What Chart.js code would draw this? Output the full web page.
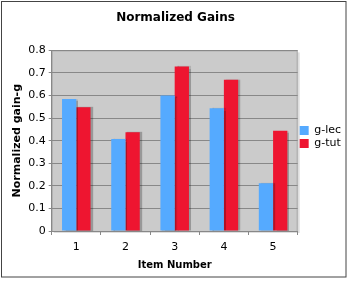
<!DOCTYPE html>
<html>
<head>
<meta charset="utf-8">
<script src="https://cdn.jsdelivr.net/npm/chart.js@4"></script>
<style>
html,body{margin:0;padding:0;background:#fff;}
#wrap{width:348px;height:283px;position:relative;}
</style>
</head>
<body>
<div id="wrap"><canvas id="c" width="348" height="283"></canvas></div>
<script>
const categories = ["1", "2", "3", "4", "5"];
const gLec = [0.585, 0.407, 0.600, 0.544, 0.212];
const gTut = [0.548, 0.437, 0.729, 0.670, 0.444];
const seriesNames = ["g-lec", "g-tut"];
const titleText = "Normalized Gains";
const xTitle = "Item Number";
const yTitle = "Normalized gain-g";

const plotBg = {
  id: 'plotBg',
  beforeDraw(chart) {
    const {ctx, chartArea: a} = chart;
    ctx.save();
    ctx.fillStyle = '#dedede';
    ctx.fillRect(a.left + 2, a.top + 2, a.right - a.left, a.bottom - a.top);
    ctx.fillStyle = '#cbcbcb';
    ctx.fillRect(a.left, a.top, a.right - a.left, a.bottom - a.top);
    ctx.strokeStyle = '#a8a8a8';
    ctx.lineWidth = 1;
    ctx.strokeRect(a.left + 0.5, a.top + 0.5, a.right - a.left - 1, a.bottom - a.top);
    ctx.restore();
  },
  beforeDatasetsDraw(chart) {
    const ctx = chart.ctx;
    ctx.save();
    ctx.shadowColor = 'rgba(0,0,0,0.25)';
    ctx.shadowOffsetX = 2;
    ctx.shadowOffsetY = 0;
    ctx.shadowBlur = 1;
  },
  afterDatasetsDraw(chart) {
    chart.ctx.restore();
  },
  afterDraw(chart) {
    const ctx = chart.ctx;
    ctx.save();
    ctx.strokeStyle = '#444';
    ctx.lineWidth = 1;
    ctx.strokeRect(1.5, 1.5, 344.5, 275.5);
    ctx.restore();
  }
};

new Chart(document.getElementById('c'), {
  type: 'bar',
  data: {
    labels: categories,
    datasets: [
      {label: seriesNames[0], data: gLec, backgroundColor: '#55aaff', borderWidth: 0, barPercentage: 1.0, categoryPercentage: 0.58},
      {label: seriesNames[1], data: gTut, backgroundColor: '#ee1530', borderWidth: 0, barPercentage: 1.0, categoryPercentage: 0.58}
    ]
  },
  options: {
    responsive: false,
    animation: false,
    devicePixelRatio: 1,
    layout: {padding: {left: 0, right: -3, top: 4, bottom: 13}},
    plugins: {
      title: {display: true, text: titleText, color: '#000', font: {family: 'DejaVu Sans', size: 12, weight: 'bold'}, padding: {top: 7, bottom: 25}},
      legend: {
        position: 'right',
        labels: {boxWidth: 9, boxHeight: 9, padding: 2, color: '#000', font: {family: 'DejaVu Sans', size: 11}}
      },
      tooltip: {enabled: false}
    },
    scales: {
      x: {
        grid: {display: true, drawOnChartArea: false, drawTicks: true, tickLength: 4, color: '#888', offset: true},
        border: {color: '#888'},
        ticks: {color: '#000', font: {family: 'DejaVu Sans', size: 11, lineHeight: 1}, padding: 7},
        title: {display: true, text: xTitle, color: '#000', font: {family: 'DejaVu Sans', size: 10, weight: 'bold', lineHeight: 1}, padding: {top: 0, bottom: 0}}
      },
      y: {
        min: 0, max: 0.8,
        grid: {color: '#888', tickLength: 3},
        border: {color: '#888'},
        ticks: {stepSize: 0.1, color: '#000', font: {family: 'DejaVu Sans', size: 11}, padding: 3,
          callback: v => (Math.round(v * 10) / 10).toString()},
        title: {display: true, text: yTitle, color: '#000', font: {family: 'DejaVu Sans', size: 11, weight: 'bold'}, padding: {top: 11, bottom: 1}}
      }
    }
  },
  plugins: [plotBg]
});
</script>
</body>
</html>
